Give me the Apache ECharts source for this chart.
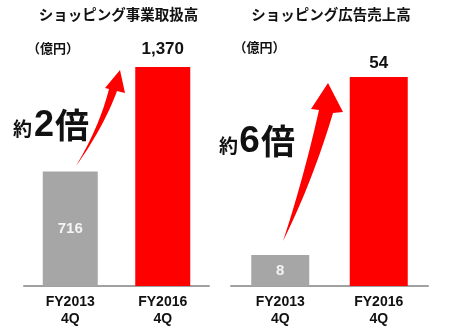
<!DOCTYPE html>
<html><head><meta charset="utf-8">
<script src="https://cdn.jsdelivr.net/npm/echarts@6/dist/echarts.min.js"></script>
<style>html,body{margin:0;padding:0;background:#fff}#c{width:452px;height:330px}</style>
</head><body><div id="c"></div>
<script>
const categories = ['FY2013\n4Q', 'FY2016\n4Q'];
const volumeValues = [716, 1370];
const adValues = [8, 54];
const titles = ['ショッピング事業取扱高', 'ショッピング広告売上高'];
const unitLabel = '（億円）';
const multiples = [['約', '2', '倍'], ['約', '6', '倍']];

const GRAY = '#a6a6a6', RED = '#ff0000';
const CJK = '"Noto Sans CJK JP", sans-serif';
const LAT = '"Liberation Sans", Arial, sans-serif';

function fmt(v) { return String(v).replace(/\B(?=(\d{3})+(?!\d))/g, ','); }

function quad(p0, c, p1, n) {
  const pts = [];
  for (let i = 0; i <= n; i++) {
    const t = i / n, a = (1 - t) * (1 - t), b = 2 * (1 - t) * t, d = t * t;
    pts.push([a * p0[0] + b * c[0] + d * p1[0], a * p0[1] + b * c[1] + d * p1[1]]);
  }
  return pts;
}
function arrow(tail, lEnd, lCtrl, rEnd, rCtrl, headL, tip, headR) {
  const left = quad(tail, lCtrl, lEnd, 20);
  const right = quad(tail, rCtrl, rEnd, 20).reverse();
  return left.concat([headL, tip, headR]).concat(right);
}

function seriesFor(idx, values, distTop) {
  return {
    type: 'bar', xAxisIndex: idx, yAxisIndex: idx,
    barWidth: idx === 0 ? 55 : 58,
    data: values.map((v, i) => ({
      value: v,
      itemStyle: { color: i === 0 ? GRAY : RED },
      label: i === 0
        ? { show: true, position: 'inside', color: '#f4f4f4', fontSize: 15, fontWeight: 'bold', fontFamily: LAT, formatter: p => fmt(p.value) }
        : { show: true, position: 'top', distance: distTop, color: '#111', fontSize: 17, fontWeight: 'bold', fontFamily: LAT, formatter: p => fmt(p.value) }
    })),
    animation: false
  };
}

function xAxisFor(idx) {
  return {
    type: 'category', gridIndex: idx, data: categories,
    axisLine: { lineStyle: { color: '#a0a0a0', width: 2 } },
    axisTick: { show: false },
    axisLabel: { color: '#111', fontSize: 14, fontWeight: 'bold', fontFamily: LAT, lineHeight: 17, margin: 8 }
  };
}
function yAxisFor(idx, max) {
  return { type: 'value', gridIndex: idx, min: 0, max: max, show: false, splitLine: { show: false } };
}

function txt(x, y, s, size, fam, extra) {
  return Object.assign({ type: 'text', x: x, y: y, silent: true,
    style: { text: s, fontSize: size, fontWeight: 'bold', fontFamily: fam, fill: '#111', align: 'center', verticalAlign: 'middle' } }, extra || {});
}

const graphics = [
  txt(118.5, 14.5, titles[0], 14.5, CJK),
  txt(331, 14.5, titles[1], 14.5, CJK),
  txt(53, 48.5, unitLabel, 13, CJK),
  txt(259.5, 47.5, unitLabel, 13, CJK),
  txt(22.5, 129, multiples[0][0], 19, CJK),
  txt(44, 126, multiples[0][1], 36, LAT),
  txt(72, 125, multiples[0][2], 34, CJK),
  txt(228.5, 146, multiples[1][0], 19, CJK),
  txt(249.5, 142, multiples[1][1], 37, LAT),
  txt(278, 141, multiples[1][2], 34, CJK),
  { type: 'polygon', silent: true, shape: { points: arrow([76, 166], [109, 89], [99.5, 126.5], [117, 91], [103.5, 127.5], [105, 88], [120, 70], [125, 93]) }, style: { fill: RED } },
  { type: 'polygon', silent: true, shape: { points: arrow([283, 241], [319, 110], [303, 180.5], [333, 113], [312, 183], [311, 109], [328, 83], [343, 112]) }, style: { fill: RED } }
];

const chart = echarts.init(document.getElementById('c'), null, { renderer: 'canvas' });
chart.setOption({
  animation: false,
  grid: [
    { left: 24, width: 185, top: 67, bottom: 44 },
    { left: 231, width: 197, top: 77, bottom: 44 }
  ],
  xAxis: [xAxisFor(0), xAxisFor(1)],
  yAxis: [yAxisFor(0, 1370), yAxisFor(1, 54)],
  series: [seriesFor(0, volumeValues, 9), seriesFor(1, adValues, 5)],
  graphic: graphics
});
</script></body></html>
